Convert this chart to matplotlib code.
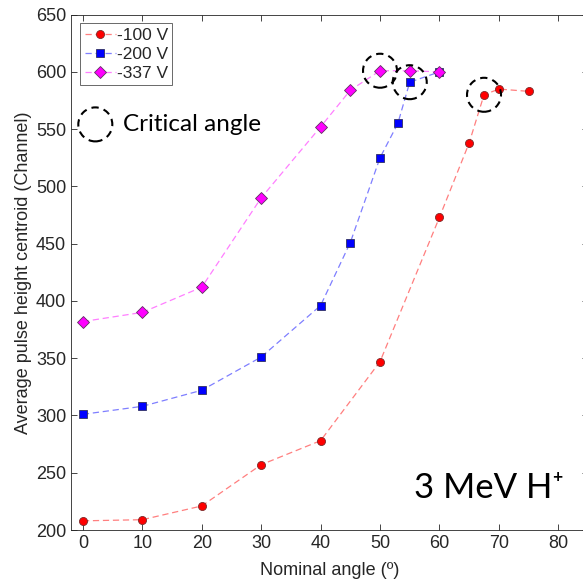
import matplotlib
matplotlib.use('Agg')
import matplotlib.pyplot as plt
from matplotlib.patches import Circle
from matplotlib.transforms import ScaledTranslation

plt.rcParams['font.family'] = ['Liberation Sans', 'DejaVu Sans']

# pulse height centroid vs nominal angle, one series per bias voltage
angle_100 = [0, 10, 20, 30, 40, 50, 60, 65, 67.5, 70, 75]
chan_100 = [208, 209, 221, 257, 278, 347, 473, 538, 580, 585, 583]

angle_200 = [0, 10, 20, 30, 40, 45, 50, 53, 55, 60]
chan_200 = [301, 308, 322, 351, 396, 451, 525, 555, 591, 600]

angle_337 = [0, 10, 20, 30, 40, 45, 50, 55, 60]
chan_337 = [382, 390, 412, 490, 552, 584, 601, 601, 600]

labels = ['-100 V', '-200 V', '-337 V']

TXT = '#262626'

fig = plt.figure(figsize=(5.83, 5.87), dpi=100)
ax = fig.add_axes([0.1218, 0.0971, 0.8868, 0.878])

ax.plot(angle_100, chan_100, '--o', color='#ff7f7f', lw=0.9, dashes=(5, 3),
        mfc='#ff0000', mec='#7a2a2a', mew=0.6, ms=5.8, label=labels[0])
ax.plot(angle_200, chan_200, '--s', color='#7f7fff', lw=0.9, dashes=(5, 3),
        mfc='#0000ff', mec='#303060', mew=0.6, ms=5.6, label=labels[1])
ax.plot(angle_337, chan_337, '--D', color='#ff7fff', lw=0.9, dashes=(5, 3),
        mfc='#ff00ff', mec='#603060', mew=0.6, ms=6.3, label=labels[2])

# dashed rings around the critical-angle points
crit = [(angle_337[6], chan_337[6]), (angle_200[8], chan_200[8]),
        (angle_100[8], chan_100[8])]
for cx, cy in crit:
    ring = Circle((0, 0), 0.17, fill=False, ec='k', lw=1.5, ls=(0, (3.5, 2.5)),
                  transform=fig.dpi_scale_trans + ScaledTranslation(cx, cy, ax.transData),
                  zorder=5)
    ax.add_patch(ring)

# key for the rings
key = Circle((0, 0), 0.17, fill=False, ec='k', lw=1.5, ls=(0, (3.5, 2.5)),
             transform=fig.dpi_scale_trans + ScaledTranslation(0.047, 0.787, ax.transAxes))
ax.add_patch(key)
ax.text(0.100, 0.787, 'Critical angle', transform=ax.transAxes, fontsize=17.5,
        family=['Lato', 'DejaVu Sans'], va='center', ha='left', color='k')

ax.text(0.664, 0.082, '3 MeV H\u207a', transform=ax.transAxes, fontsize=25,
        family=['Lato', 'DejaVu Sans'], va='center', ha='left', color='k')

ax.set_xlim(-2, 85)
ax.set_ylim(200, 650)
ax.set_xticks(range(0, 81, 10))
ax.set_yticks(range(200, 651, 50))
ax.tick_params(direction='in', top=True, right=True, length=4, width=0.6,
               colors=TXT, labelsize=13, labelcolor=TXT)
for s in ax.spines.values():
    s.set_color('#262626')
    s.set_linewidth(0.6)

ax.set_xlabel('Nominal angle (º)', fontsize=13, color=TXT, labelpad=7)
ax.set_ylabel('Average pulse height centroid (Channel)', fontsize=13, color=TXT, labelpad=3)

leg = ax.legend(loc='upper left', bbox_to_anchor=(0.008, 0.993), fontsize=12.5,
                frameon=True, fancybox=False, handlelength=1.8, handletextpad=0.05,
                borderpad=0.25, labelspacing=0.22, borderaxespad=0.3)
leg.get_frame().set_edgecolor('#262626')
leg.get_frame().set_linewidth(0.6)
for t in leg.get_texts():
    t.set_color(TXT)

fig.savefig('out.png', dpi=100)
